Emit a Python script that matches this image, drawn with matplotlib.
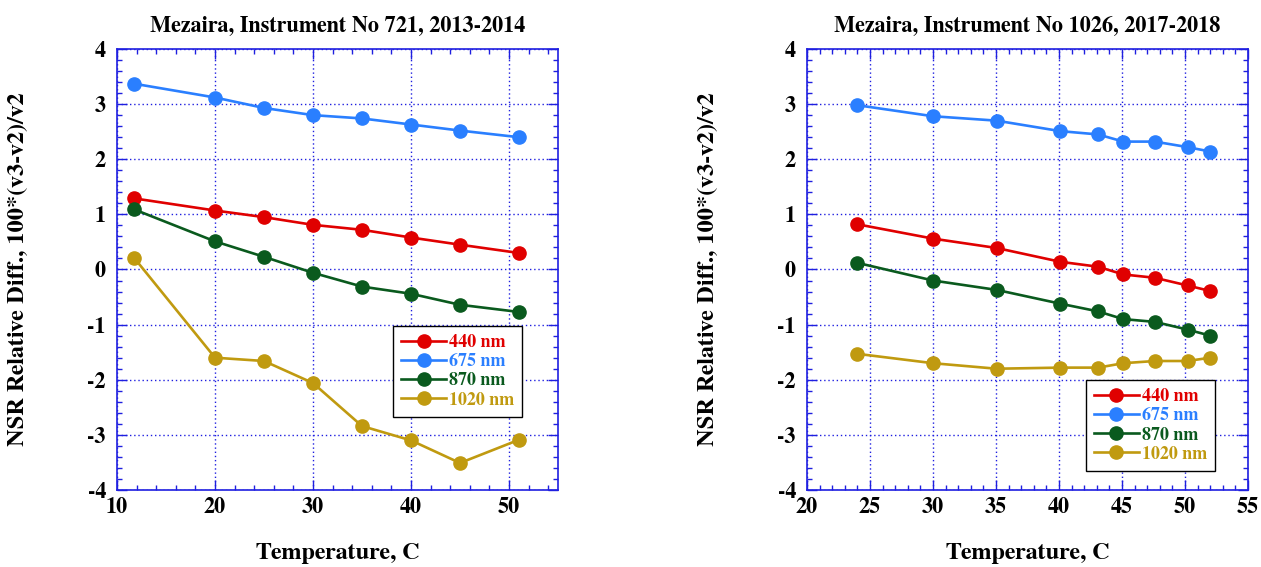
import matplotlib.pyplot as plt
from matplotlib.ticker import MultipleLocator

plt.rcParams['font.family'] = ['FreeSerif', 'DejaVu Serif']
plt.rcParams['font.weight'] = 'bold'
plt.rcParams['axes.unicode_minus'] = False

# left panel: instrument 721, 2013-2014
temp_721 = [11.75, 20, 25, 30, 35, 40, 45, 51]
nsr_721 = {
    '440 nm': [1.29, 1.07, 0.95, 0.81, 0.72, 0.58, 0.45, 0.30],
    '675 nm': [3.37, 3.12, 2.93, 2.80, 2.74, 2.63, 2.52, 2.40],
    '870 nm': [1.09, 0.51, 0.23, -0.06, -0.31, -0.44, -0.64, -0.77],
    '1020 nm': [0.21, -1.60, -1.66, -2.06, -2.84, -3.10, -3.51, -3.09],
}

# right panel: instrument 1026, 2017-2018
temp_1026 = [24, 30, 35.05, 40.1, 43.1, 45.1, 47.6, 50.2, 52]
nsr_1026 = {
    '440 nm': [0.82, 0.56, 0.39, 0.14, 0.05, -0.09, -0.15, -0.29, -0.39],
    '675 nm': [2.98, 2.78, 2.70, 2.51, 2.45, 2.32, 2.32, 2.22, 2.14],
    '870 nm': [0.12, -0.20, -0.37, -0.62, -0.76, -0.90, -0.95, -1.09, -1.20],
    '1020 nm': [-1.53, -1.70, -1.80, -1.78, -1.78, -1.70, -1.66, -1.66, -1.60],
}

colors = {'440 nm': '#e00000', '675 nm': '#2a7fff', '870 nm': '#0a5a1e', '1020 nm': '#c09a10'}
axis_blue = '#1f1fe0'

fig = plt.figure(figsize=(12.61, 5.67), dpi=100)
ax1 = fig.add_axes([0.0928, 0.1358, 0.3497, 0.7778])
ax2 = fig.add_axes([0.640, 0.1358, 0.3497, 0.7778])


def draw(ax, temps, data, title, xlim, xmajor, xminor, legend_pos):
    for name, vals in data.items():
        ax.plot(temps, vals, '-o', color=colors[name], lw=1.9, ms=9.5, label=name)
    ax.set_xlim(*xlim)
    ax.set_ylim(-4, 4)
    ax.xaxis.set_major_locator(MultipleLocator(xmajor))
    ax.xaxis.set_minor_locator(MultipleLocator(xminor))
    ax.yaxis.set_major_locator(MultipleLocator(1))
    ax.yaxis.set_minor_locator(MultipleLocator(0.2))
    ax.grid(True, which='major', color=axis_blue, ls=(0, (1, 2)), lw=1)
    ax.tick_params(which='both', direction='in', top=True, right=True, color=axis_blue,
                   labelsize=16)
    ax.tick_params(axis='x', pad=5)
    ax.tick_params(axis='y', pad=8)
    ax.tick_params(which='major', length=7, width=1)
    ax.tick_params(which='minor', length=3.5, width=1)
    for sp in ax.spines.values():
        sp.set_color(axis_blue)
        sp.set_linewidth(1.2)
    for lab in ax.get_xticklabels() + ax.get_yticklabels():
        lab.set_fontweight('bold')
    ax.set_title(title, fontsize=16, fontweight='bold', pad=12)
    ax.set_xlabel('Temperature, C', fontsize=17.5, fontweight='bold', labelpad=18)
    ax.set_ylabel('NSR Relative Diff., 100*(v3-v2)/v2', fontsize=17.5, fontweight='bold', labelpad=42)
    leg = ax.legend(loc='upper left', bbox_to_anchor=legend_pos, borderaxespad=0, fancybox=False,
                    edgecolor='black', framealpha=1, fontsize=13, handlelength=2.5,
                    handletextpad=0.15, borderpad=0.45, labelspacing=0.12)
    leg.get_frame().set_linewidth(1)
    for txt, name in zip(leg.get_texts(), data.keys()):
        txt.set_color(colors[name])
        txt.set_fontweight('bold')


draw(ax1, temp_721, nsr_721, 'Mezaira, Instrument No 721, 2013-2014', (10, 55), 10, 2, (0.626, 0.372))
draw(ax2, temp_1026, nsr_1026, 'Mezaira, Instrument No 1026, 2017-2018', (20, 55), 5, 1, (0.632, 0.249))

plt.savefig('out.png', dpi=100)
